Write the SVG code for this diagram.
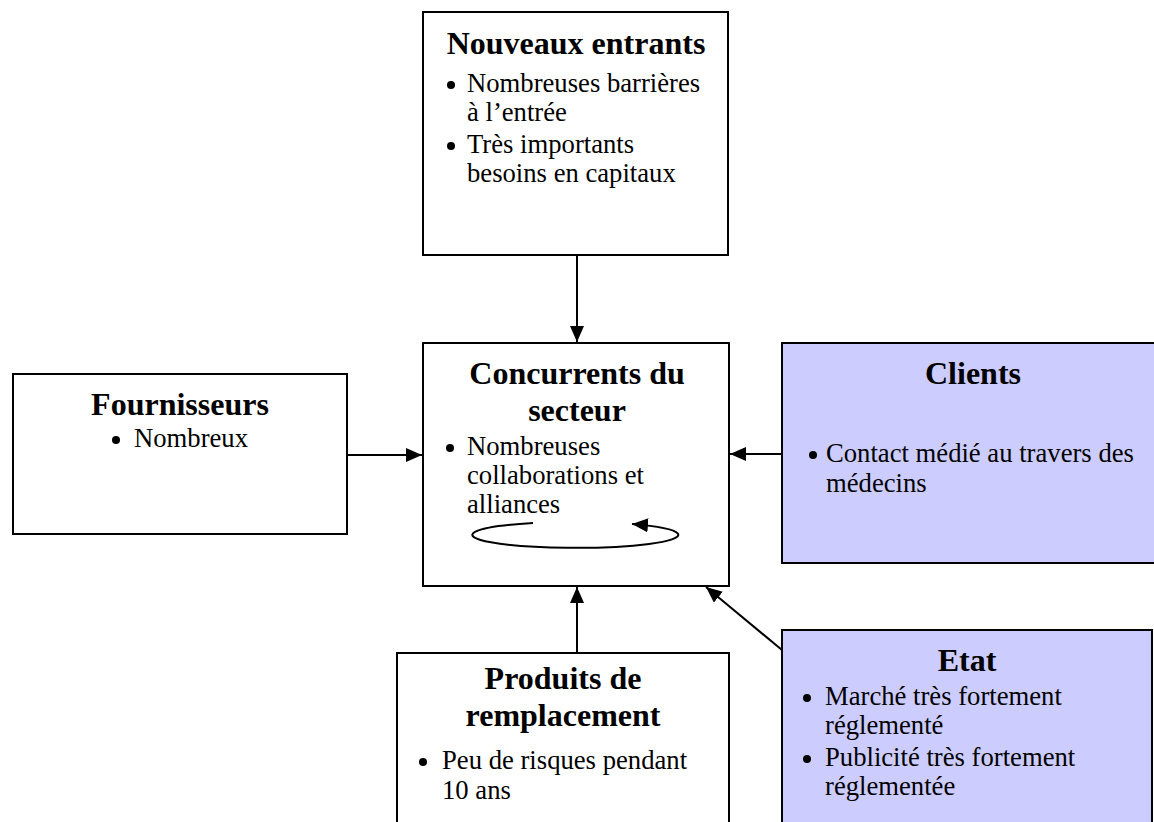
<svg xmlns="http://www.w3.org/2000/svg" width="1154" height="822" viewBox="0 0 1154 822">
<defs>
<style>
.box{fill:#ffffff;stroke:#000;stroke-width:2}
.blue{fill:#ccccff;stroke:#000;stroke-width:2}
.t{font-family:"Liberation Serif","Times New Roman",serif;font-size:32px;font-weight:bold;fill:#000;text-anchor:middle}
.b{font-family:"Liberation Serif","Times New Roman",serif;font-size:26.67px;fill:#000}
.c{fill:none;stroke:#000;stroke-width:2}
.dot{fill:#000}
</style>
<marker id="ah" markerUnits="userSpaceOnUse" markerWidth="18" markerHeight="16" refX="16" refY="7" orient="auto">
<path d="M0,0 L16,7 L0,14 Z" fill="#000"/>
</marker>
</defs>
<g id="nouveaux-entrants">
<rect class="box" x="423" y="12" width="305" height="243"/>
<text class="t" x="576" y="54">Nouveaux entrants</text>
<circle class="dot" cx="451" cy="85" r="4"/>
<text class="b" x="467" y="92">Nombreuses barrières</text>
<text class="b" x="467" y="121">à l’entrée</text>
<circle class="dot" cx="451" cy="146" r="4"/>
<text class="b" x="467" y="153">Très importants</text>
<text class="b" x="467" y="182">besoins en capitaux</text>
</g>
<g id="concurrents">
<rect class="box" x="423" y="343" width="306" height="243"/>
<text class="t" x="577" y="384">Concurrents du</text>
<text class="t" x="577" y="421">secteur</text>
<circle class="dot" cx="450" cy="448" r="4"/>
<text class="b" x="467" y="455">Nombreuses</text>
<text class="b" x="467" y="484">collaborations et</text>
<text class="b" x="467" y="513">alliances</text>
</g>
<g id="fournisseurs">
<rect class="box" x="13" y="374" width="334" height="160"/>
<text class="t" x="180" y="415">Fournisseurs</text>
<circle class="dot" cx="116" cy="440" r="4"/>
<text class="b" x="134" y="447">Nombreux</text>
</g>
<g id="clients">
<rect class="blue" x="782" y="343" width="382" height="220"/>
<text class="t" x="973" y="384">Clients</text>
<circle class="dot" cx="813" cy="455" r="4"/>
<text class="b" x="826" y="462">Contact médié au travers des</text>
<text class="b" x="826" y="492">médecins</text>
</g>
<g id="produits">
<rect class="box" x="397" y="653" width="332" height="180"/>
<text class="t" x="563" y="689">Produits de</text>
<text class="t" x="563" y="726">remplacement</text>
<circle class="dot" cx="423" cy="762" r="4"/>
<text class="b" x="442" y="769">Peu de risques pendant</text>
<text class="b" x="442" y="799">10 ans</text>
</g>
<g id="etat">
<rect class="blue" x="782" y="630" width="370" height="200"/>
<text class="t" x="967" y="671">Etat</text>
<circle class="dot" cx="807" cy="698" r="4"/>
<text class="b" x="825" y="705">Marché très fortement</text>
<text class="b" x="825" y="734">réglementé</text>
<circle class="dot" cx="807" cy="759" r="4"/>
<text class="b" x="825" y="766">Publicité très fortement</text>
<text class="b" x="825" y="795">réglementée</text>
</g>
<g id="connectors">
<line class="c" x1="577" y1="255" x2="577" y2="342" marker-end="url(#ah)"/>
<line class="c" x1="347" y1="455" x2="422" y2="455" marker-end="url(#ah)"/>
<line class="c" x1="782" y1="454" x2="730" y2="454" marker-end="url(#ah)"/>
<line class="c" x1="577" y1="653" x2="577" y2="587" marker-end="url(#ah)"/>
<line class="c" x1="782" y1="650" x2="706" y2="587" marker-end="url(#ah)"/>
<path class="c" d="M533,523 A103,13 0 1 0 632,524" marker-end="url(#ah)"/>
</g>
</svg>
